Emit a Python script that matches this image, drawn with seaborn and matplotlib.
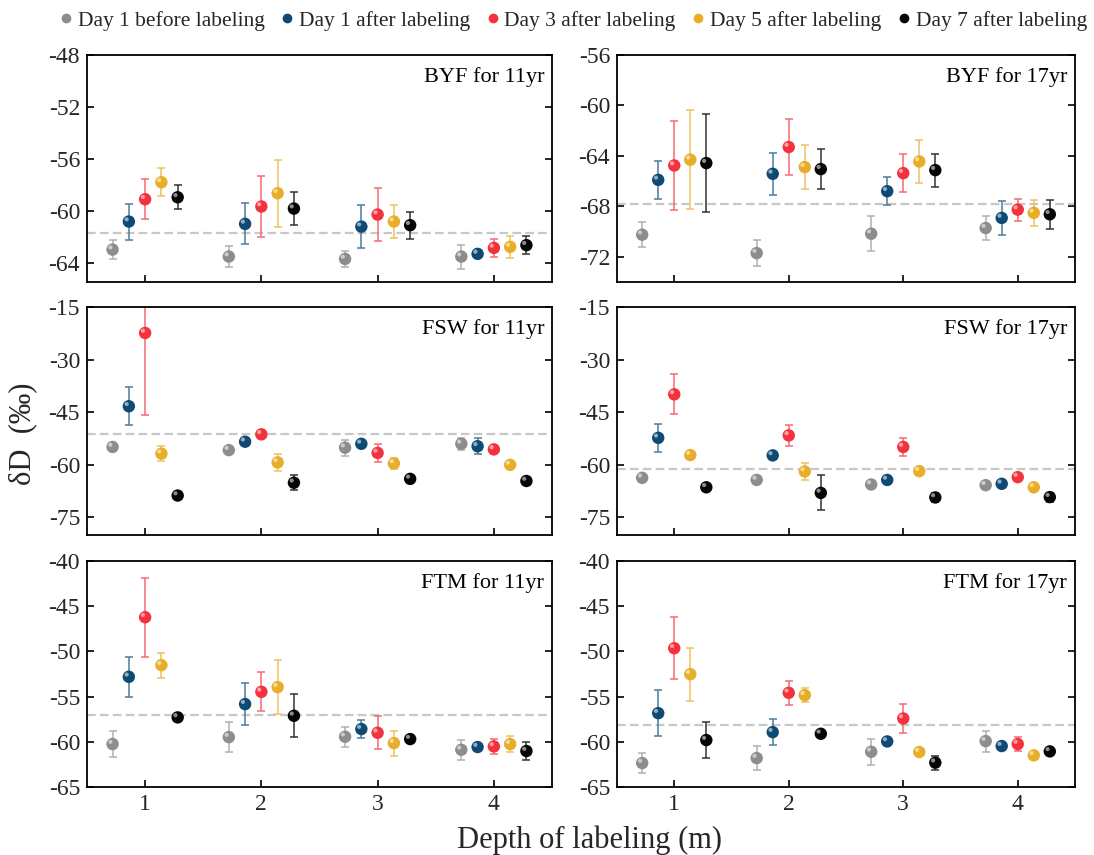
import numpy as np
import pandas as pd
import matplotlib
matplotlib.use("Agg")
import matplotlib.pyplot as plt
import matplotlib.transforms as mtransforms
from matplotlib.lines import Line2D
import seaborn as sns

# ---------------- data ----------------
depths = [1, 2, 3, 4]
series = ["Day 1 before labeling", "Day 1 after labeling", "Day 3 after labeling",
          "Day 5 after labeling", "Day 7 after labeling"]
colors = ["#8d8d8d", "#0e4a74", "#f4323d", "#e8ae2a", "#050505"]
offsets = [-0.28, -0.14, 0.0, 0.14, 0.28]

# BYF 11yr
byf11_gray = [-63.0, -63.54, -63.72, -63.54]
byf11_blue = [-60.84, -61.02, -61.23, -63.33]
byf11_red = [-59.12, -59.68, -60.30, -62.87]
byf11_yellow = [-57.81, -58.66, -60.84, -62.79]
byf11_black = [-58.97, -59.84, -61.12, -62.66]
byf11_err_gray = [0.72, 0.81, 0.59, 0.92]
byf11_err_blue = [1.39, 1.58, 1.66, 0.2]
byf11_err_red = [1.54, 2.35, 2.03, 0.72]
byf11_err_yellow = [1.07, 2.59, 1.25, 0.83]
byf11_err_black = [0.91, 1.26, 1.03, 0.71]
byf11_ref = -61.76

# BYF 17yr
byf17_gray = [-70.25, -71.71, -70.17, -69.72]
byf17_blue = [-65.90, -65.42, -66.80, -68.92]
byf17_red = [-64.76, -63.30, -65.37, -68.26]
byf17_yellow = [-64.30, -64.89, -64.44, -68.52]
byf17_black = [-64.57, -65.05, -65.13, -68.63]
byf17_err_gray = [1.0, 1.06, 1.38, 0.98]
byf17_err_blue = [1.53, 1.66, 1.09, 1.37]
byf17_err_red = [3.5, 2.19, 1.49, 0.88]
byf17_err_yellow = [3.93, 1.72, 1.71, 1.06]
byf17_err_black = [3.9, 1.57, 1.3, 1.17]
byf17_ref = -67.81

# FSW 11yr
fsw11_gray = [-54.9, -55.8, -55.1, -54.0]
fsw11_blue = [-43.3, -53.4, -54.0, -54.7]
fsw11_red = [-22.4, -51.3, -56.6, -55.6]
fsw11_yellow = [-56.8, -59.3, -59.6, -60.0]
fsw11_black = [-68.75, -65.1, -64.0, -64.6]
fsw11_err_gray = [0.4, 0.4, 2.3, 1.7]
fsw11_err_blue = [5.4, 0.4, 0.4, 2.3]
fsw11_err_red = [23.4, 0.4, 2.5, 0.4]
fsw11_err_yellow = [2.2, 2.4, 1.6, 0.4]
fsw11_err_black = [0.4, 2.2, 0.4, 0.4]
fsw11_ref = -51.3

# FSW 17yr
fsw17_gray = [-63.7, -64.3, -65.6, -65.8]
fsw17_blue = [-52.3, -57.3, -64.3, -65.4]
fsw17_red = [-39.9, -51.6, -54.9, -63.5]
fsw17_yellow = [-57.2, -61.9, -61.8, -66.4]
fsw17_black = [-66.4, -68.0, -69.3, -69.2]
fsw17_err_gray = [0.4, 0.4, 0.4, 0.4]
fsw17_err_blue = [3.9, 0.4, 0.4, 0.4]
fsw17_err_red = [5.7, 3.1, 2.6, 0.4]
fsw17_err_yellow = [0.4, 2.4, 0.4, 0.4]
fsw17_err_black = [0.4, 5.0, 1.3, 1.3]
fsw17_ref = -61.3

# FTM 11yr
ftm11_gray = [-60.25, -59.48, -59.44, -60.88]
ftm11_blue = [-52.81, -55.83, -58.59, -60.58]
ftm11_red = [-46.22, -54.47, -59.0, -60.51]
ftm11_yellow = [-51.52, -53.95, -60.14, -60.25]
ftm11_black = [-57.30, -57.12, -59.70, -61.02]
ftm11_err_gray = [1.4, 1.64, 1.12, 1.09]
ftm11_err_blue = [2.19, 2.3, 1.03, 0.3]
ftm11_err_red = [4.35, 2.15, 1.84, 0.85]
ftm11_err_yellow = [1.38, 2.95, 1.38, 0.88]
ftm11_err_black = [0.3, 2.37, 0.3, 0.96]
ftm11_ref = -57.05

# FTM 17yr
ftm17_gray = [-62.35, -61.80, -61.10, -59.92]
ftm17_blue = [-56.83, -58.93, -59.96, -60.47]
ftm17_red = [-49.65, -54.58, -57.42, -60.25]
ftm17_yellow = [-52.52, -54.84, -61.13, -61.50]
ftm17_black = [-59.81, -59.11, -62.31, -61.06]
ftm17_err_gray = [1.1, 1.36, 1.44, 1.16]
ftm17_err_blue = [2.56, 1.42, 0.3, 0.3]
ftm17_err_red = [3.42, 1.34, 1.56, 0.79]
ftm17_err_yellow = [2.93, 0.81, 0.3, 0.3]
ftm17_err_black = [2.03, 0.3, 0.77, 0.3]
ftm17_ref = -58.19

panel_titles = ["BYF for 11yr", "BYF for 17yr", "FSW for 11yr",
                "FSW for 17yr", "FTM for 11yr", "FTM for 17yr"]
y_ticks_list = [[-48, -52, -56, -60, -64], [-56, -60, -64, -68, -72],
                [-15, -30, -45, -60, -75], [-15, -30, -45, -60, -75],
                [-40, -45, -50, -55, -60, -65], [-40, -45, -50, -55, -60, -65]]
y_lims = [(-65.5, -48), (-74, -56), (-80, -15), (-80, -15), (-65, -40), (-65, -40)]

panels = [
    ([byf11_gray, byf11_blue, byf11_red, byf11_yellow, byf11_black],
     [byf11_err_gray, byf11_err_blue, byf11_err_red, byf11_err_yellow, byf11_err_black], byf11_ref),
    ([byf17_gray, byf17_blue, byf17_red, byf17_yellow, byf17_black],
     [byf17_err_gray, byf17_err_blue, byf17_err_red, byf17_err_yellow, byf17_err_black], byf17_ref),
    ([fsw11_gray, fsw11_blue, fsw11_red, fsw11_yellow, fsw11_black],
     [fsw11_err_gray, fsw11_err_blue, fsw11_err_red, fsw11_err_yellow, fsw11_err_black], fsw11_ref),
    ([fsw17_gray, fsw17_blue, fsw17_red, fsw17_yellow, fsw17_black],
     [fsw17_err_gray, fsw17_err_blue, fsw17_err_red, fsw17_err_yellow, fsw17_err_black], fsw17_ref),
    ([ftm11_gray, ftm11_blue, ftm11_red, ftm11_yellow, ftm11_black],
     [ftm11_err_gray, ftm11_err_blue, ftm11_err_red, ftm11_err_yellow, ftm11_err_black], ftm11_ref),
    ([ftm17_gray, ftm17_blue, ftm17_red, ftm17_yellow, ftm17_black],
     [ftm17_err_gray, ftm17_err_blue, ftm17_err_red, ftm17_err_yellow, ftm17_err_black], ftm17_ref),
]

# ---------------- style ----------------
sns.set_theme(style="ticks")
plt.rcParams["font.family"] = ["Liberation Serif", "DejaVu Serif"]
plt.rcParams["axes.unicode_minus"] = False
plt.rcParams["xtick.direction"] = "in"
plt.rcParams["ytick.direction"] = "in"

fig = plt.figure(figsize=(10.94, 8.55), dpi=100)
W, H = 1094.0, 855.0
col_x = [(87, 552), (617, 1075)]
row_y = [(55, 282), (307, 535), (561, 787)]

light = {"#8d8d8d": "#b0b0b0", "#0e4a74": "#4a7c9e", "#f4323d": "#f86a72",
         "#e8ae2a": "#edc25e", "#050505": "#333333"}

for i, (vals, errs, ref) in enumerate(panels):
    r, c = divmod(i, 2)
    x0, x1 = col_x[c]
    y0, y1 = row_y[r]
    ax = fig.add_axes([x0 / W, 1 - y1 / H, (x1 - x0) / W, (y1 - y0) / H])

    rows = []
    for s, name in enumerate(series):
        for d, depth in enumerate(depths):
            rows.append({"series": name, "pos": depth + offsets[s],
                         "val": vals[s][d], "err": errs[s][d]})
    df = pd.DataFrame(rows)

    ax.axhline(ref, color="#c8c8c8", lw=1.6, dashes=(3.9, 1.9), zorder=1)

    for s, name in enumerate(series):
        sub = df[df["series"] == name]
        ax.errorbar(sub["pos"], sub["val"], yerr=sub["err"], fmt="none",
                    ecolor=light[colors[s]], elinewidth=1.1, capsize=3,
                    capthick=1.1, zorder=2)

    sns.scatterplot(data=df, x="pos", y="val", hue="series", hue_order=series,
                    palette=colors, s=80, edgecolor="none", legend=False,
                    ax=ax, zorder=3)
    # specular highlight for sphere look
    hl = mtransforms.offset_copy(ax.transData, fig=fig, x=-1.6, y=1.6, units="points")
    ax.scatter(df["pos"], df["val"], s=9, color="white", alpha=0.55,
               edgecolor="none", transform=hl, zorder=4)

    ax.set_xlim(0.5, 4.5)
    ax.set_ylim(*y_lims[i])
    ax.set_xticks(depths)
    ax.set_yticks(y_ticks_list[i])
    ax.set_yticklabels([str(t) for t in y_ticks_list[i]])
    if r == 2:
        ax.set_xticklabels([str(d) for d in depths])
    else:
        ax.set_xticklabels([])
    ax.set_xlabel("")
    ax.set_ylabel("")
    ax.tick_params(axis="both", which="major", direction="in", length=5,
                   width=1.2, color="black", labelsize=17, pad=5)
    ax.tick_params(axis="y", right=True, labelright=False)
    ax.tick_params(axis="x", top=False)
    for sp in ax.spines.values():
        sp.set_visible(True)
        sp.set_linewidth(1.3)
        sp.set_color("black")
    ax.text(0.983, 0.945, panel_titles[i], transform=ax.transAxes,
            ha="right", va="top", fontsize=16, color="black")

# legend
handles = [Line2D([0], [0], marker="o", linestyle="none", markersize=7,
                  markerfacecolor=col, markeredgecolor="none") for col in colors]
fig.legend(handles, series, loc="center", bbox_to_anchor=(0.522, 0.976),
           ncol=5, frameon=False, fontsize=15.5, handletextpad=0.05,
           columnspacing=0.55, handlelength=1.0, borderaxespad=0,
           borderpad=0)

fig.text(0.021, 0.493, "δD  (‰)", rotation=90, fontsize=22,
         ha="center", va="center")
fig.text(0.539, 0.008, "Depth of labeling (m)", fontsize=22,
         ha="center", va="baseline")

fig.savefig("out.png", dpi=100)
